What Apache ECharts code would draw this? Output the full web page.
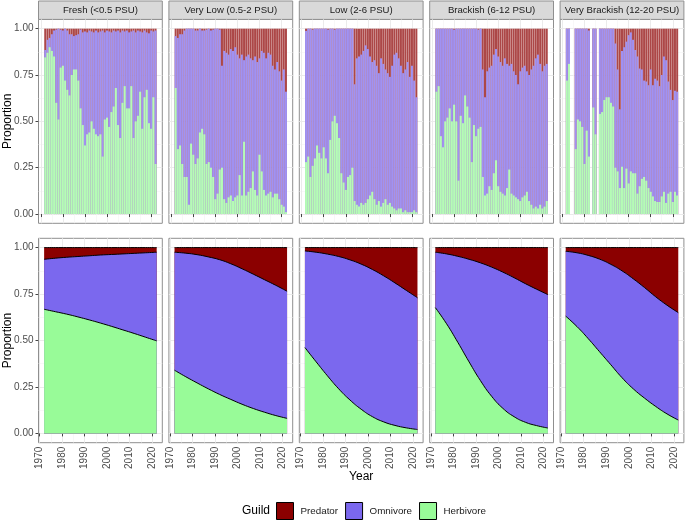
<!DOCTYPE html>
<html>
<head>
<meta charset="utf-8">
<script src="https://cdn.jsdelivr.net/npm/echarts@6/dist/echarts.min.js"></script>
<style>
  html, body { margin: 0; padding: 0; background: #fff; }
  #chart { width: 685px; height: 521px; }
</style>
</head>
<body>
<div id="chart"></div>
<script>
/* ===== data ===== */

const years = [1972, 1973, 1974, 1975, 1976, 1977, 1978, 1979, 1980, 1981,
  1982, 1983, 1984, 1985, 1986, 1987, 1988, 1989, 1990, 1991,
  1992, 1993, 1994, 1995, 1996, 1997, 1998, 1999, 2000, 2001,
  2002, 2003, 2004, 2005, 2006, 2007, 2008, 2009, 2010, 2011,
  2012, 2013, 2014, 2015, 2016, 2017, 2018, 2019, 2020, 2021, 2022];

const fitYears = [1972, 1977, 1982, 1987, 1992, 1997, 2002, 2007, 2012, 2017, 2022];

const majorYears = [1970, 1980, 1990, 2000, 2010, 2020];
const minorYears = [1975, 1985, 1995, 2005, 2015];
const majorShares = [0, 0.25, 0.5, 0.75, 1];
const minorShares = [0.125, 0.375, 0.625, 0.875];

const salinityNames = ['Fresh (<0.5 PSU)', 'Very Low (0.5-2 PSU)', 'Low (2-6 PSU)',
  'Brackish (6-12 PSU)', 'Very Brackish (12-20 PSU)'];
const guilds = ['Predator', 'Omnivore', 'Herbivore'];

// observed yearly shares (top row); omnivore = 1 - herbivore - predator
const herbFresh = [0.845, 0.87, 0.90, 0.88, 0.85, 0.60, 0.51, 0.79, 0.80, 0.72,
  0.67, 0.64, 0.75, 0.78, 0.78, 0.72, 0.57, 0.48, 0.37, 0.43,
  0.44, 0.50, 0.46, 0.43, 0.42, 0.43, 0.31, 0.51, 0.52, 0.47,
  0.55, 0.58, 0.68, 0.48, 0.41, 0.60, 0.69, 0.57, 0.57, 0.69,
  0.41, 0.50, 0.53, 0.66, 0.46, 0.63, 0.67, 0.49, 0.46, 0.63, 0.27];
const predFresh = [0.115, 0.06, 0.05, 0.03, 0.01, 0.005, 0, 0.005, 0.01, 0,
  0.01, 0.03, 0.03, 0.04, 0.035, 0.03, 0.005, 0.02, 0.015, 0.02,
  0.01, 0.015, 0.02, 0.01, 0.02, 0.015, 0.01, 0.02, 0.01, 0.015,
  0.02, 0.01, 0.015, 0.01, 0.02, 0.01, 0.015, 0.01, 0.02, 0.015,
  0.01, 0.02, 0.01, 0.015, 0.02, 0.01, 0.02, 0.025, 0.01, 0.015, 0.01];

const herbVeryLow = [0.68, 0.35, 0.37, 0.27, 0.20, 0.20, 0.05, 0.38, 0.32, 0.27,
  0.30, 0.44, 0.46, 0.43, 0.27, 0.28, 0.25, 0.20, 0.08, 0.11,
  0.24, 0.25, 0.08, 0.06, 0.09, 0.10, 0.07, 0.09, 0.10, 0.21,
  0.10, 0.39, 0.10, 0.12, 0.14, 0.23, 0.13, 0.10, 0.32, 0.23,
  0.13, 0.10, 0.11, 0.12, 0.09, 0.11, 0.11, 0.08, 0.05, 0.04, 0.01];
const predVeryLow = [0.04, 0.05, 0.03, 0.03, 0.01, 0, 0, 0, 0, 0.01,
  0.01, 0, 0.01, 0.01, 0.005, 0, 0.01, 0.005, 0, 0,
  0.005, 0.20, 0.12, 0.13, 0.14, 0.11, 0.12, 0.10, 0.14, 0.16,
  0.14, 0.17, 0.15, 0.14, 0.16, 0.17, 0.15, 0.18, 0.16, 0.12,
  0.13, 0.16, 0.13, 0.14, 0.20, 0.22, 0.18, 0.23, 0.28, 0.22, 0.34];

const herbLow = [0.28, 0.31, 0.20, 0.26, 0.30, 0.37, 0.33, 0.30, 0.36, 0.30,
  0.22, 0.40, 0.50, 0.53, 0.49, 0.41, 0.22, 0.17, 0.13, 0.20,
  0.21, 0.25, 0.07, 0.05, 0.04, 0.06, 0.05, 0.06, 0.08, 0.10,
  0.12, 0.08, 0.05, 0.07, 0.04, 0.06, 0.08, 0.05, 0.06, 0.04,
  0.03, 0.02, 0.03, 0.03, 0.01, 0.02, 0.01, 0.01, 0.01, 0.02, 0.01];
const predLow = [0.012, 0, 0, 0.005, 0, 0, 0, 0, 0, 0,
  0.005, 0, 0, 0.005, 0, 0, 0, 0, 0, 0,
  0, 0, 0.30, 0.16, 0.15, 0.14, 0.12, 0.09, 0.11, 0.15,
  0.18, 0.17, 0.20, 0.24, 0.16, 0.19, 0.22, 0.24, 0.26, 0.20,
  0.14, 0.13, 0.16, 0.20, 0.24, 0.22, 0.18, 0.26, 0.20, 0.28, 0.37];

const herbBrackish = [0.66, 0.69, 0.42, 0.36, 0.50, 0.52, 0.57, 0.50, 0.59, 0.50,
  0.18, 0.53, 0.49, 0.64, 0.58, 0.52, 0.28, 0.48, 0.42, 0.46,
  0.47, 0.20, 0.10, 0.11, 0.15, 0.13, 0.22, 0.29, 0.15, 0.12,
  0.11, 0.10, 0.14, 0.24, 0.11, 0.10, 0.09, 0.08, 0.07, 0.09,
  0.10, 0.12, 0.07, 0.05, 0.03, 0.04, 0.03, 0.05, 0.03, 0.04, 0.07];
const predBrackish = [0, 0, 0, 0, 0, 0, 0, 0, 0.005, 0,
  0, 0, 0, 0, 0, 0, 0, 0, 0, 0.005,
  0, 0.22, 0.37, 0.23, 0.21, 0.20, 0.14, 0.11, 0.15, 0.18,
  0.20, 0.16, 0.19, 0.20, 0.19, 0.23, 0.25, 0.30, 0.23, 0.21,
  0.20, 0.23, 0.25, 0.22, 0.20, 0.16, 0.14, 0.19, 0.23, 0.20, 0.19];

const herbVeryBrackish = [0.72, 0.81, null, null, 0.35, 0.51, 0.50, 0.47, 0.27, 0.45,
  0.31, null, 0.575, 0.43, null, 0.54, 0.55, 0.615, 0.63, 0.63,
  0.60, 0.58, 0.25, 0.23, 0.14, 0.255, 0.14, 0.245, 0.165, 0.23,
  0.22, 0.22, 0.11, 0.15, 0.19, 0.20, 0.18, 0.14, 0.12, 0.095,
  0.07, 0.065, 0.065, 0.095, 0.12, 0.06, 0.11, 0.12, 0.065, 0.12, 0.10];
const predVeryBrackish = [0, 0, null, null, 0, 0, 0, 0, 0, 0,
  0.01, null, 0, 0, null, 0, 0, 0, 0, 0,
  0, 0, 0.08, 0.22, 0.435, 0.12, 0.10, 0.07, 0.035, 0.02,
  0.06, 0.115, 0.15, 0.215, 0.22, 0.28, 0.285, 0.305, 0.22, 0.305,
  0.27, 0.28, 0.31, 0.25, 0.15, 0.17, 0.285, 0.33, 0.385, 0.335, 0.34];

// fitted shares (bottom row), read every 5 years
const fitHerbFresh = [0.668, 0.655, 0.642, 0.627, 0.611, 0.594, 0.576, 0.557, 0.538, 0.518, 0.498];
const fitPredFresh = [0.063, 0.057, 0.052, 0.048, 0.044, 0.040, 0.037, 0.034, 0.031, 0.028, 0.025];
const fitHerbVeryLow = [0.340, 0.305, 0.272, 0.240, 0.210, 0.183, 0.157, 0.134, 0.114, 0.096, 0.081];
const fitPredVeryLow = [0.025, 0.030, 0.038, 0.050, 0.065, 0.087, 0.114, 0.143, 0.173, 0.203, 0.235];
const fitHerbLow = [0.462, 0.385, 0.310, 0.240, 0.180, 0.130, 0.090, 0.062, 0.043, 0.030, 0.021];
const fitPredLow = [0.018, 0.025, 0.035, 0.048, 0.066, 0.089, 0.118, 0.152, 0.190, 0.230, 0.270];
const fitHerbBrackish = [0.677, 0.590, 0.490, 0.385, 0.285, 0.200, 0.135, 0.090, 0.060, 0.042, 0.029];
const fitPredBrackish = [0.025, 0.034, 0.047, 0.063, 0.082, 0.105, 0.132, 0.162, 0.194, 0.224, 0.253];
const fitHerbVeryBrackish = [0.631, 0.575, 0.510, 0.440, 0.370, 0.300, 0.240, 0.190, 0.145, 0.105, 0.072];
const fitPredVeryBrackish = [0.020, 0.028, 0.042, 0.062, 0.090, 0.125, 0.168, 0.215, 0.265, 0.310, 0.350];

/* ===== layout / style ===== */

const FONT = '"Liberation Sans", Arial, sans-serif';
// full colours for the fitted areas, washed (alpha ~0.72 on white) for the yearly bars
const guildColor = { Predator: '#8B0000', Omnivore: '#7B68EE', Herbivore: '#98FB98' };
const guildColorLight = { Predator: '#ac4747', Omnivore: '#a092f3', Herbivore: '#b5fcb5' };

const PANEL_LEFT = 38.5;
const PANEL_STEP = 130.4;
const PANEL_W = 123.8;
const ROW_TOP = [19.4, 238.3];
const ROW_H = [203.9, 204.4];
const ROW_X = [[1968.95, 2025.05], [1969.5, 2024.5]];

const panels = [
  { herb: herbFresh, pred: predFresh, fitHerb: fitHerbFresh, fitPred: fitPredFresh },
  { herb: herbVeryLow, pred: predVeryLow, fitHerb: fitHerbVeryLow, fitPred: fitPredVeryLow },
  { herb: herbLow, pred: predLow, fitHerb: fitHerbLow, fitPred: fitPredLow },
  { herb: herbBrackish, pred: predBrackish, fitHerb: fitHerbBrackish, fitPred: fitPredBrackish },
  { herb: herbVeryBrackish, pred: predVeryBrackish, fitHerb: fitHerbVeryBrackish, fitPred: fitPredVeryBrackish },
];

// cumulative tops of each band: herbivore, herbivore+omnivore, all three
function bandTops(herb, pred) {
  const omniTop = herb.map((h, i) => (h == null || pred[i] == null) ? null : +(1 - pred[i]).toFixed(4));
  const total = herb.map((h, i) => (h == null || pred[i] == null) ? null : +(h + (1 - h - pred[i]) + pred[i]).toFixed(4));
  return { Herbivore: herb, Omnivore: omniTop, Predator: total };
}

const grids = [];
const xAxes = [];
const yAxes = [];
const areaSeries = [];
const barSeries = [];
const graphics = [];

function addGrid(row, col) {
  const g = grids.length;
  const xr = ROW_X[row];
  grids.push({
    left: PANEL_LEFT + col * PANEL_STEP,
    top: ROW_TOP[row],
    width: PANEL_W,
    height: ROW_H[row],
    show: true,
    backgroundColor: '#fff',
    borderColor: '#8f8f8f',
    borderWidth: 1,
  });
  // major axes
  xAxes.push({
    gridIndex: g, type: 'value', min: xr[0], max: xr[1],
    axisLine: { show: false },
    axisTick: { show: true, length: 3, customValues: majorYears, lineStyle: { color: '#444' } },
    axisLabel: {
      show: row === 1, customValues: majorYears, rotate: 90, margin: 4,
      color: '#4d4d4d', fontSize: 10, fontFamily: FONT,
      formatter: v => String(v),
    },
    splitLine: { show: true, lineStyle: { color: '#ebebeb', width: 1 } },
  });
  yAxes.push({
    gridIndex: g, type: 'value', min: -0.05, max: 1.05,
    axisLine: { show: false },
    axisTick: { show: col === 0, length: 3, customValues: majorShares, lineStyle: { color: '#444' } },
    axisLabel: {
      show: col === 0, customValues: majorShares, margin: 5,
      color: '#4d4d4d', fontSize: 10, fontFamily: FONT,
      formatter: v => v.toFixed(2),
    },
    splitLine: { show: true, lineStyle: { color: '#ebebeb', width: 1 } },
  });
  // minor grid lines
  xAxes.push({
    gridIndex: g, type: 'value', min: xr[0], max: xr[1],
    axisLine: { show: false },
    axisTick: { show: false, customValues: minorYears },
    axisLabel: { show: false },
    splitLine: { show: true, lineStyle: { color: '#f3f3f3', width: 0.6 } },
  });
  yAxes.push({
    gridIndex: g, type: 'value', min: -0.05, max: 1.05,
    axisLine: { show: false },
    axisTick: { show: false, customValues: minorShares },
    axisLabel: { show: false },
    splitLine: { show: true, lineStyle: { color: '#f3f3f3', width: 0.6 } },
  });
  return g;
}

panels.forEach((p, col) => {
  // top row: yearly bars, each band drawn from 0 to its cumulative top, back to front
  const gTop = addGrid(0, col);
  const tops = bandTops(p.herb, p.pred);
  ['Predator', 'Omnivore', 'Herbivore'].forEach(name => {
    barSeries.push({
      type: 'bar', name,
      xAxisIndex: 2 * gTop, yAxisIndex: 2 * gTop,
      barWidth: '90%', barGap: '-100%',
      silent: true,
      itemStyle: { color: guildColorLight[name] },
      data: years.map((y, i) => [y, tops[name][i]]),
    });
  });

  // strip header
  const left = PANEL_LEFT + col * PANEL_STEP;
  graphics.push({
    type: 'rect', silent: true,
    shape: { x: left, y: 1, width: PANEL_W, height: ROW_TOP[0] - 1 },
    style: { fill: '#d9d9d9', stroke: '#8f8f8f', lineWidth: 1 },
  });
  graphics.push({
    type: 'text', silent: true, x: left + PANEL_W / 2, y: (ROW_TOP[0] + 1) / 2 + 0.5,
    style: {
      text: salinityNames[col], x: 0, y: 0, align: 'center', verticalAlign: 'middle',
      font: '9.6px ' + FONT, fill: '#1a1a1a',
    },
  });

  // bottom row: fitted areas, same back-to-front drawing
  const gBot = addGrid(1, col);
  const fitTops = bandTops(p.fitHerb, p.fitPred);
  ['Predator', 'Omnivore', 'Herbivore'].forEach(name => {
    areaSeries.push({
      type: 'line', name,
      xAxisIndex: 2 * gBot, yAxisIndex: 2 * gBot,
      smooth: 0.5,
      symbol: 'none', silent: true,
      itemStyle: { color: guildColor[name] },
      lineStyle: { color: '#000', width: 1 },
      areaStyle: { color: guildColor[name], opacity: 1, origin: 0 },
      data: fitYears.map((y, i) => [y, fitTops[name][i]]),
    });
  });
});

// axis titles and legend title
graphics.push({
  type: 'text', silent: true, x: 8, y: ROW_TOP[0] + ROW_H[0] / 2, rotation: Math.PI / 2,
  style: { text: 'Proportion', x: 0, y: 0, align: 'center', verticalAlign: 'middle', font: '12px ' + FONT, fill: '#000' },
});
graphics.push({
  type: 'text', silent: true, x: 8, y: ROW_TOP[1] + ROW_H[1] / 2, rotation: Math.PI / 2,
  style: { text: 'Proportion', x: 0, y: 0, align: 'center', verticalAlign: 'middle', font: '12px ' + FONT, fill: '#000' },
});
graphics.push({
  type: 'text', silent: true, x: PANEL_LEFT + 2 * PANEL_STEP + PANEL_W / 2, y: 477,
  style: { text: 'Year', x: 0, y: 0, align: 'center', verticalAlign: 'middle', font: '12px ' + FONT, fill: '#000' },
});
graphics.push({
  type: 'text', silent: true, x: 242, y: 511,
  style: { text: 'Guild', x: 0, y: 0, align: 'left', verticalAlign: 'middle', font: '12px ' + FONT, fill: '#000' },
});

const chart = echarts.init(document.getElementById('chart'), null, { renderer: 'canvas' });
chart.setOption({
  backgroundColor: '#fff',
  animation: false,
  textStyle: { fontFamily: FONT },
  grid: grids,
  xAxis: xAxes,
  yAxis: yAxes,
  legend: {
    data: guilds,
    left: 276, top: 502,
    padding: 0,
    icon: 'rect',
    itemWidth: 17, itemHeight: 17, itemGap: 7,
    selectedMode: false,
    itemStyle: { borderColor: '#000', borderWidth: 1, opacity: 1 },
    textStyle: { fontSize: 9.8, color: '#1a1a1a', fontFamily: FONT, padding: [0, 0, 0, 2] },
  },
  graphic: { elements: graphics },
  series: areaSeries.concat(barSeries),
});

window.addEventListener('resize', () => chart.resize());
</script>
</body>
</html>
